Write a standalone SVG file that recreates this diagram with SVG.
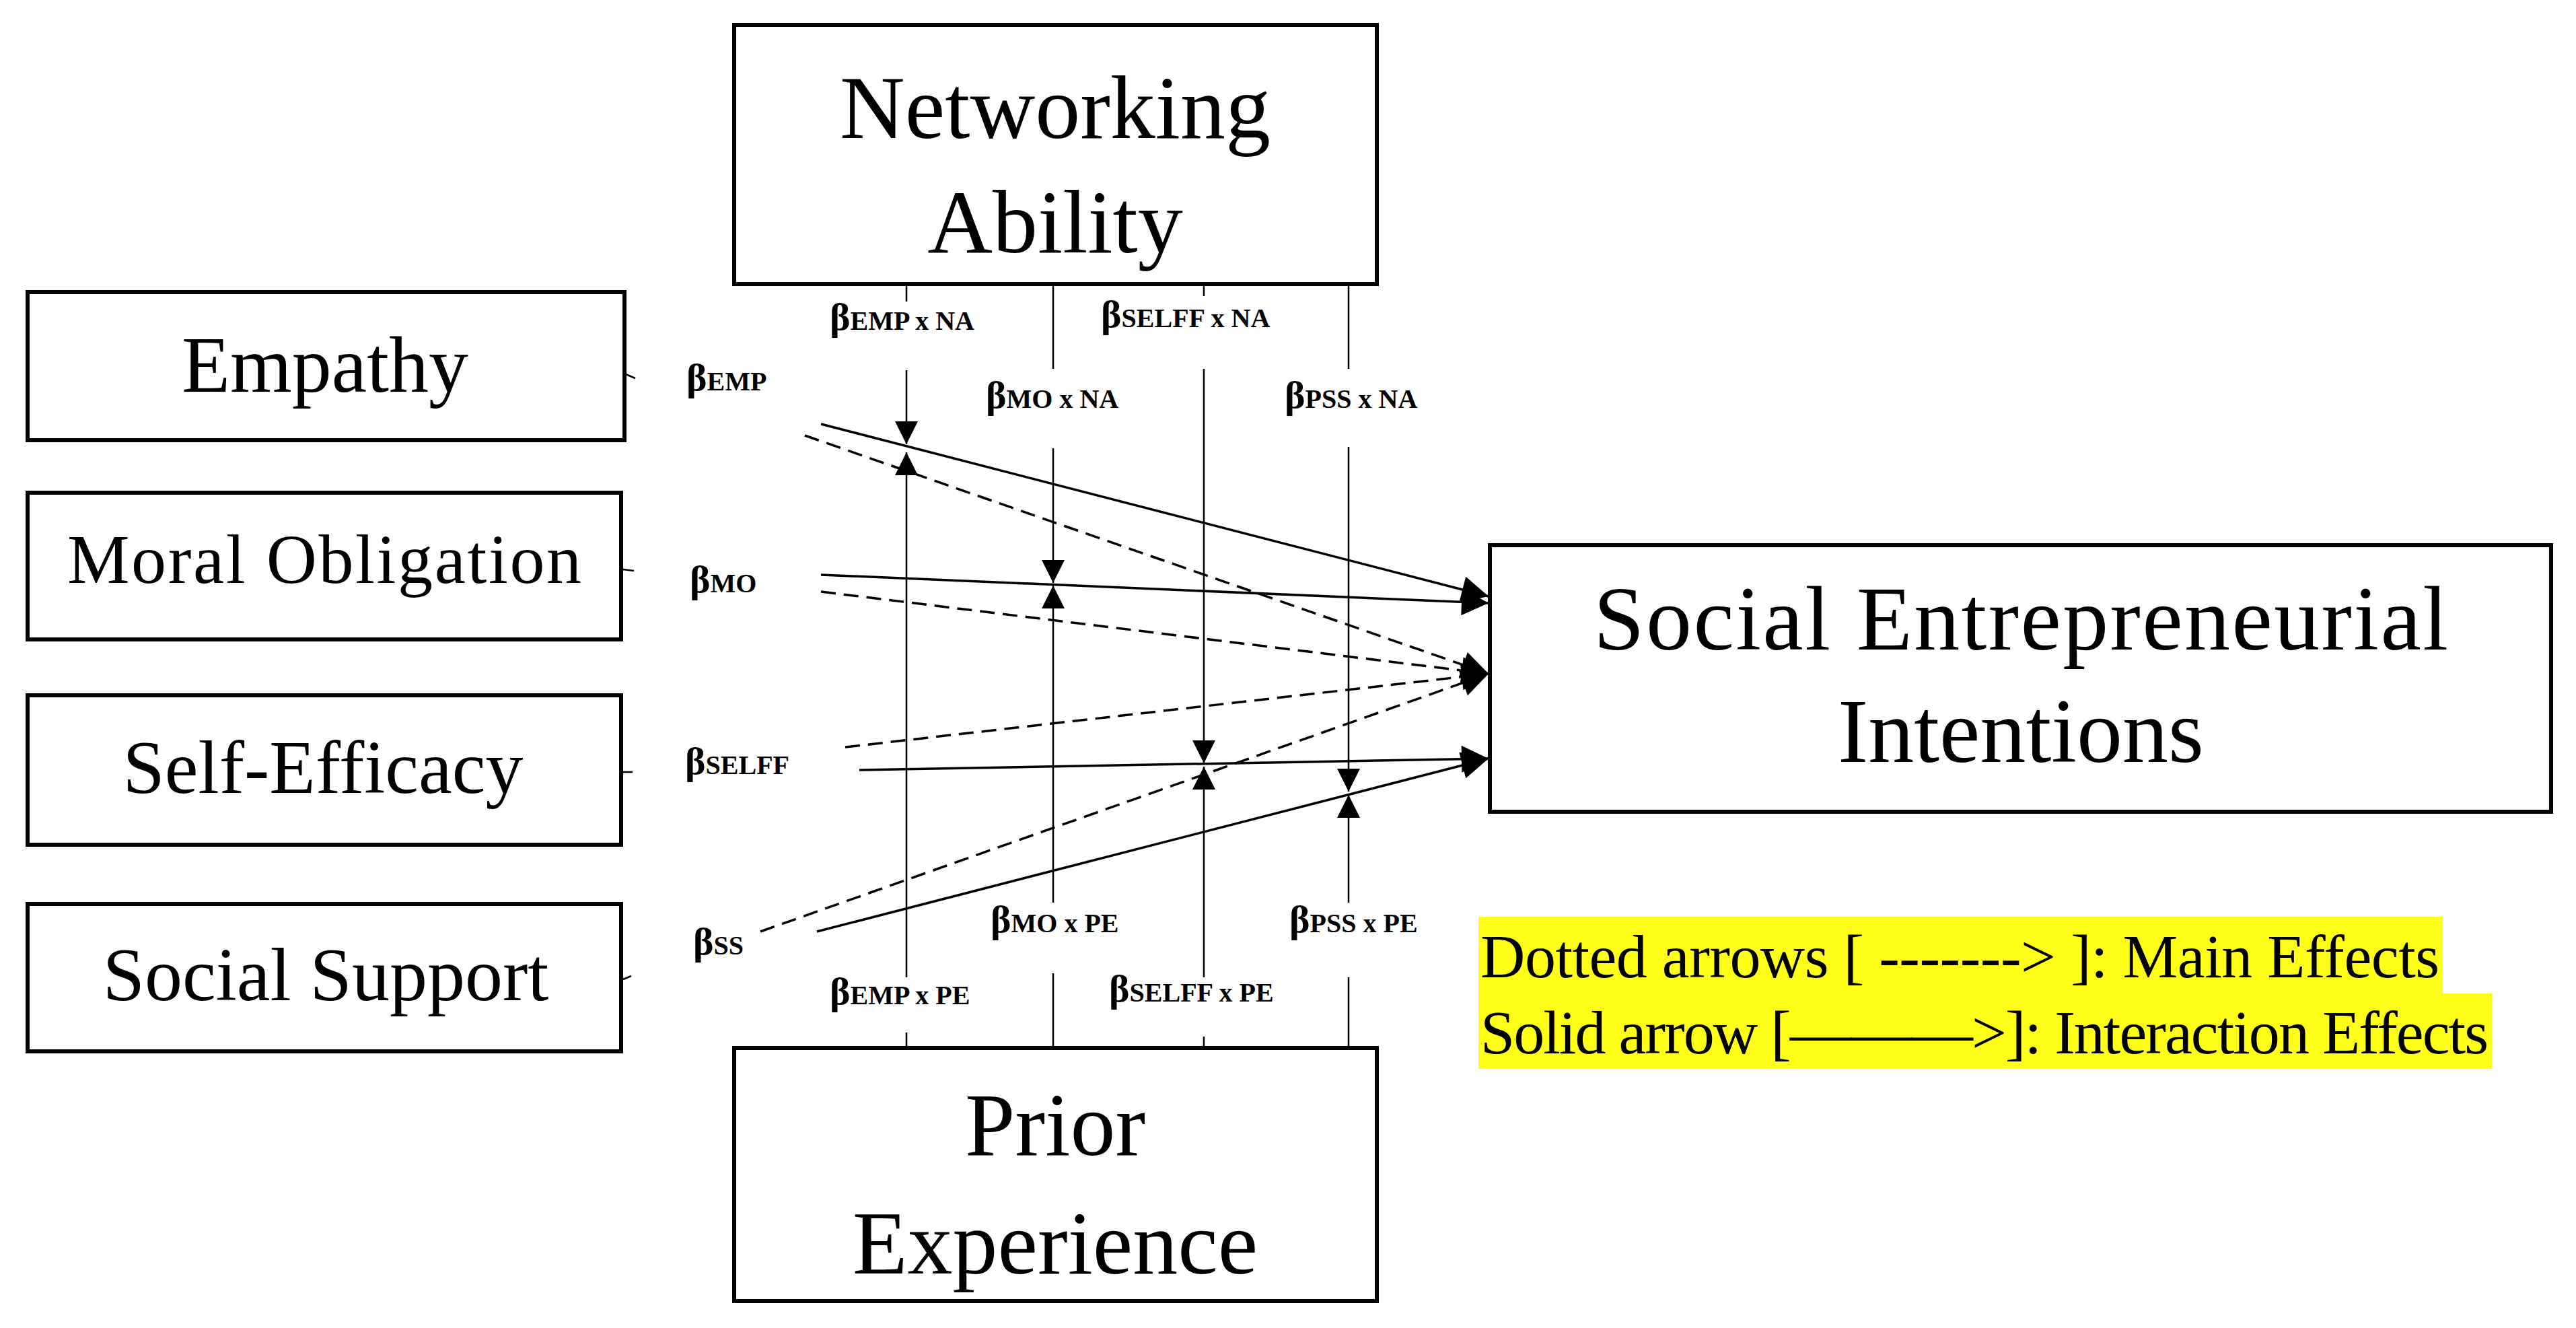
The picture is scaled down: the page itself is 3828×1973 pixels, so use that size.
<svg xmlns="http://www.w3.org/2000/svg" width="3828" height="1973" viewBox="0 0 3828 1973">
<style>
.box{fill:#fff;stroke:#000;stroke-width:6}
.big{font-family:"Liberation Serif",serif;fill:#000;text-anchor:middle}
.b{font-family:"Liberation Serif",serif;font-size:58px;font-weight:bold;fill:#000}
.b tspan.s{font-size:40px}
.v{stroke:#000;stroke-width:2.5;fill:none}
.d{stroke:#000;stroke-width:3.5;fill:none}
.dash{stroke-dasharray:22 12}
.leg{font-family:"Liberation Serif",serif;font-size:92px;fill:#000}
</style>
<defs>
<marker id="av" viewBox="0 0 10 10" refX="10" refY="5" markerWidth="42" markerHeight="34" markerUnits="userSpaceOnUse" orient="auto">
<path d="M0,0 L10,5 L0,10 z" fill="#000"/>
</marker>
<marker id="ad" viewBox="0 0 10 10" refX="10" refY="5" markerWidth="44" markerHeight="40" markerUnits="userSpaceOnUse" orient="auto">
<path d="M0,0 L10,5 L0,10 z" fill="#000"/>
</marker>
</defs>
<rect width="3828" height="1973" fill="#fff"/>
<g id="legend">
<rect x="2197" y="1362" width="1433" height="114" fill="#ffff1a"/>
<rect x="2197" y="1476" width="1506" height="112" fill="#ffff1a"/>
<text class="leg" x="2200" y="1452" textLength="1425">Dotted arrows [ -------&gt; ]: Main Effects</text>
<text class="leg" x="2200" y="1565" textLength="1498">Solid arrow [———&gt;]: Interaction Effects</text>
</g>
<g id="connectors">
<line class="v" x1="930" y1="556" x2="944" y2="562"/>
<line class="v" x1="926" y1="846" x2="942" y2="848"/>
<line class="v" x1="926" y1="1147" x2="940" y2="1147"/>
<line class="v" x1="926" y1="1455" x2="938" y2="1450"/>
<line class="v" x1="1347" y1="422" x2="1347" y2="448"/>
<line class="v" x1="1347" y1="550" x2="1347" y2="660" marker-end="url(#av)"/>
<line class="v" x1="1347" y1="1452" x2="1347" y2="672" marker-end="url(#av)"/>
<line class="v" x1="1347" y1="1534" x2="1347" y2="1557"/>
<line class="v" x1="1565" y1="422" x2="1565" y2="548"/>
<line class="v" x1="1565" y1="666" x2="1565" y2="866" marker-end="url(#av)"/>
<line class="v" x1="1565" y1="1341" x2="1565" y2="870" marker-end="url(#av)"/>
<line class="v" x1="1565" y1="1446" x2="1565" y2="1557"/>
<line class="v" x1="1789" y1="422" x2="1789" y2="440"/>
<line class="v" x1="1789" y1="548" x2="1789" y2="1134" marker-end="url(#av)"/>
<line class="v" x1="1789" y1="1452" x2="1789" y2="1139" marker-end="url(#av)"/>
<line class="v" x1="1789" y1="1540" x2="1789" y2="1575"/>
<line class="v" x1="2004" y1="422" x2="2004" y2="548"/>
<line class="v" x1="2004" y1="664" x2="2004" y2="1176" marker-end="url(#av)"/>
<line class="v" x1="2004" y1="1341" x2="2004" y2="1181" marker-end="url(#av)"/>
<line class="v" x1="2004" y1="1452" x2="2004" y2="1557"/>
<line class="d" x1="1220" y1="630" x2="2212" y2="886" marker-end="url(#ad)"/>
<line class="d dash" x1="1196" y1="647" x2="2212" y2="1001" marker-end="url(#ad)"/>
<line class="d" x1="1220" y1="854" x2="2212" y2="896" marker-end="url(#ad)"/>
<line class="d dash" x1="1220" y1="879" x2="2212" y2="1001" marker-end="url(#ad)"/>
<line class="d dash" x1="1256" y1="1110" x2="2212" y2="1001" marker-end="url(#ad)"/>
<line class="d" x1="1277" y1="1144" x2="2212" y2="1127" marker-end="url(#ad)"/>
<line class="d dash" x1="1130" y1="1384" x2="2212" y2="1001" marker-end="url(#ad)"/>
<line class="d" x1="1214" y1="1384" x2="2212" y2="1127" marker-end="url(#ad)"/>
</g>
<g id="labels">
<text class="b" x="1020" y="580">β<tspan class="s">EMP</tspan></text>
<text class="b" x="1025" y="880">β<tspan class="s">MO</tspan></text>
<text class="b" x="1018" y="1150">β<tspan class="s">SELFF</tspan></text>
<text class="b" x="1030" y="1418">β<tspan class="s">SS</tspan></text>
<text class="b" x="1233" y="490">β<tspan class="s">EMP x NA</tspan></text>
<text class="b" x="1636" y="486">β<tspan class="s">SELFF x NA</tspan></text>
<text class="b" x="1465" y="606">β<tspan class="s">MO x NA</tspan></text>
<text class="b" x="1909" y="606">β<tspan class="s">PSS x NA</tspan></text>
<text class="b" x="1472" y="1385">β<tspan class="s">MO x PE</tspan></text>
<text class="b" x="1916" y="1385">β<tspan class="s">PSS x PE</tspan></text>
<text class="b" x="1233" y="1492">β<tspan class="s">EMP x PE</tspan></text>
<text class="b" x="1648" y="1488">β<tspan class="s">SELFF x PE</tspan></text>
</g>
<g id="networking">
<rect class="box" x="1091" y="37" width="955" height="385"/>
<text class="big" x="1568" y="205" font-size="134">Networking</text>
<text class="big" x="1568" y="375" font-size="134">Ability</text>
</g>
<g id="empathy">
<rect class="box" x="41" y="434" width="887" height="220"/>
<text class="big" x="483" y="582" font-size="118">Empathy</text>
</g>
<g id="moral">
<rect class="box" x="41" y="732" width="882" height="218"/>
<text class="big" x="482" y="866" font-size="104" textLength="764">Moral Obligation</text>
</g>
<g id="selfefficacy">
<rect class="box" x="41" y="1033" width="882" height="222"/>
<text class="big" x="480" y="1178" font-size="112">Self-Efficacy</text>
</g>
<g id="socialsupport">
<rect class="box" x="41" y="1343" width="882" height="219"/>
<text class="big" x="484" y="1486" font-size="112">Social Support</text>
</g>
<g id="prior">
<rect class="box" x="1091" y="1557" width="955" height="376"/>
<text class="big" x="1568" y="1716" font-size="134">Prior</text>
<text class="big" x="1568" y="1892" font-size="134">Experience</text>
</g>
<g id="sei">
<rect class="box" x="2214" y="810" width="1577" height="396"/>
<text class="big" x="3003" y="965" font-size="136" textLength="1270">Social Entrepreneurial</text>
<text class="big" x="3003" y="1132" font-size="136">Intentions</text>
</g>
</svg>
